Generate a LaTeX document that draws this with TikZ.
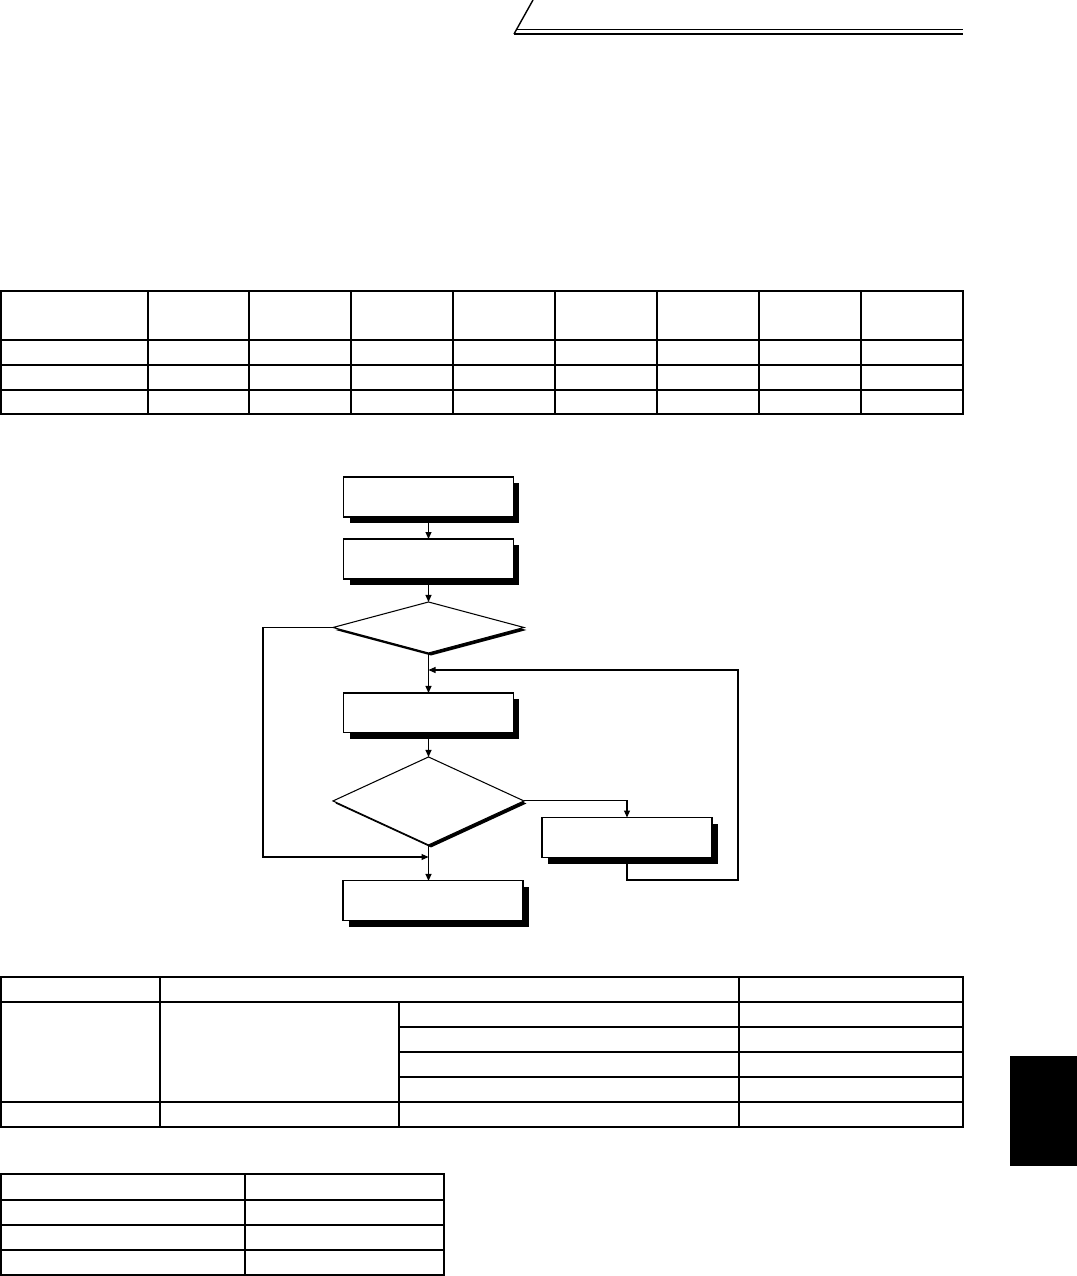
\documentclass[tikz,border=0pt]{standalone}
\usepackage{tikz}
\usetikzlibrary{positioning,arrows.meta,shapes.geometric,shadows}
\tikzset{
    procbox/.style={
        draw, fill=white, line width=0.6pt,
        minimum width=3.4cm, minimum height=0.8cm,
        inner sep=0pt, outer sep=0pt,
        drop shadow={shadow xshift=0.12cm, shadow yshift=-0.12cm, fill=black, opacity=1}
    },
    decbox/.style={
        draw, fill=white, diamond, line width=0.6pt,
        minimum width=3.82cm, inner sep=0pt, outer sep=0pt,
        drop shadow={shadow xshift=0.05cm, shadow yshift=-0.05cm, fill=black, opacity=1}
    },
    arrow/.style={-{Triangle[length=1.4mm,width=1.2mm]}, line width=0.6pt},
    link/.style={line width=0.6pt},
    tblline/.style={line width=1.1pt},
}
\begin{document}
\begin{tikzpicture}[x=0.02cm, y=-0.02cm, node distance=0.44cm and 0.36cm]
    \useasboundingbox (0,0) rectangle (1077,1276);
    % header rule
    \draw[line width=0.8pt] (533,0) -- (514,34);
    \draw[tblline] (514,34) -- (963,34);
    \draw[tblline] (516,29.5) -- (963,29.5);
    % top table
    \draw[tblline] (1,291) rectangle (963,414);
    \foreach \y in {340,365,390} \draw[tblline] (1,\y) -- (963,\y);
    \foreach \x in {148,249,351,453,555,657,759,861} \draw[tblline] (\x,291) -- (\x,414);
    % flow chart
    \node[procbox] (b1) at (428.5,497) {};
    \node[procbox, below=of b1] (b2) {};
    \node[decbox, minimum height=1.02cm, below=0.46cm of b2] (d1) {};
    \node[procbox, below=0.8cm of d1] (b3) {};
    \node[decbox, minimum height=1.76cm, below=0.48cm of b3] (d2) {};
    \node[procbox] (b4) at (627,837.5) {};
    \node[procbox, minimum width=3.6cm, below=0.72cm of d2, xshift=0.09cm] (b5) {};
    \coordinate (lft) at (263,857);
    \coordinate (rgt) at (738,880);
    \coordinate (join1) at (428.5,670);
    \coordinate (join2) at (428.5,857);
    \draw[arrow] (b1) -- (b2);
    \draw[arrow] (b2) -- (d1);
    \draw[arrow] (d1) -- (b3);
    \draw[arrow] (b3) -- (d2);
    \draw[arrow] (d2.south) -- (d2.south |- b5.north);
    \draw[arrow] (d2.east) -| (b4.north);
    \draw[arrow] (b4.south) |- (rgt) |- (join1);
    \draw[arrow] (d1.west) -| (lft) -- (join2);
    % middle table
    \draw[tblline] (1,977) rectangle (963,1127);
    \draw[tblline] (1,1002) -- (963,1002);
    \draw[tblline] (1,1102) -- (963,1102);
    \foreach \y in {1027,1052,1077} \draw[tblline] (399,\y) -- (963,\y);
    \draw[tblline] (160,977) -- (160,1127);
    \draw[tblline] (739,977) -- (739,1127);
    \draw[tblline] (399,1002) -- (399,1127);
    % side tab
    \fill (1010,1056) rectangle (1077,1166);
    % bottom table
    \draw[tblline] (1,1174) rectangle (444,1275);
    \foreach \y in {1200,1225,1250} \draw[tblline] (1,\y) -- (444,\y);
    \draw[tblline] (245,1174) -- (245,1275);
\end{tikzpicture}
\end{document}
